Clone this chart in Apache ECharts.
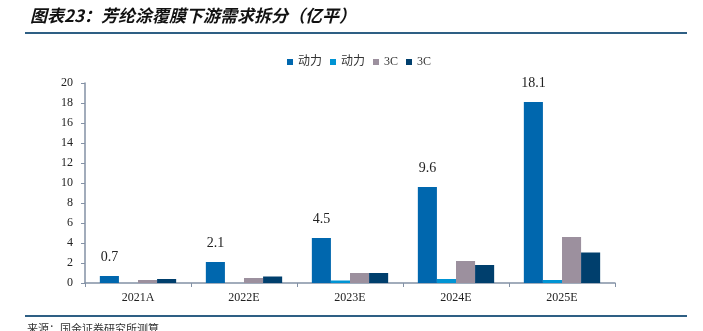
<!DOCTYPE html>
<html><head><meta charset="utf-8">
<script src="https://cdn.jsdelivr.net/npm/echarts@6/dist/echarts.min.js"></script>
<style>html,body{margin:0;padding:0;background:#fff}#c{width:703px;height:331px}</style>
</head><body><div id="c"></div>
<script>
const categories = ['2021A','2022E','2023E','2024E','2025E'];
const seriesNames = ['动力','动力','3C','3C'];
const power1 = [0.7, 2.1, 4.5, 9.6, 18.1];
const power2 = [0, 0, 0.25, 0.4, 0.3];
const c3a = [0.3, 0.5, 1.0, 2.2, 4.6];
const c3b = [0.4, 0.65, 1.0, 1.8, 3.05];
const yTicks = [0,2,4,6,8,10,12,14,16,18,20];

const colors = ['#0067AE','#0094D4','#9C909E','#003F6D'];
const serif = '"Liberation Serif","DejaVu Serif",serif';
const chart = echarts.init(document.getElementById('c'));
const mk = (name, data, i, label) => ({
  name, type:'bar', data, barGap:'0%', barCategoryGap:'28%',
  itemStyle:{color:colors[i]},
  label: label ? {show:true, position:'top', distance:12, color:'#222', fontFamily:serif, fontSize:14} : {show:false}
});
chart.setOption({
  animation:false,
  legend:{left:282, top:51, itemWidth:6, itemHeight:6, itemGap:8, icon:'rect',
    textStyle:{fontSize:12, color:'#333', fontFamily:'"Liberation Serif","Noto Sans CJK SC",serif'},
    data: seriesNames.map((n,i)=>({name:n+(i%2? '\u200b':''), itemStyle:{color:colors[i]}}))},
  grid:{left:85, right:88, top:83, bottom:48},
  xAxis:{type:'category', data:categories,
    axisLine:{lineStyle:{color:'#8391A5', width:1.5}},
    axisTick:{show:true, length:4, lineStyle:{color:'#8391A5'}},
    axisLabel:{color:'#222', fontFamily:serif, fontSize:12, margin:9}},
  yAxis:{type:'value', min:yTicks[0], max:yTicks[yTicks.length-1], interval:2,
    axisLine:{show:true, lineStyle:{color:'#8391A5', width:1.5}},
    axisTick:{show:true, length:4, lineStyle:{color:'#8391A5'}},
    splitLine:{show:false},
    axisLabel:{color:'#222', fontFamily:serif, fontSize:12, margin:12}},
  series:[
    mk(seriesNames[0], power1, 0, true),
    mk(seriesNames[1]+'\u200b', power2, 1, false),
    mk(seriesNames[2], c3a, 2, false),
    mk(seriesNames[3]+'\u200b', c3b, 3, false)
  ],
  graphic:[
    {type:'text', left:30, top:7, style:{text:'图表23：芳纶涂覆膜下游需求拆分（亿平）', fill:'#111',
      font:'italic bold 17px "Noto Sans CJK SC", sans-serif'}},
    {type:'line', shape:{x1:25,y1:33,x2:687,y2:33}, style:{stroke:'#2E5F84', lineWidth:2}},
    {type:'line', shape:{x1:25,y1:316,x2:687,y2:316}, style:{stroke:'#2E5F84', lineWidth:2}},
    {type:'text', left:27, top:323, style:{text:'来源：国金证券研究所测算', fill:'#333',
      font:'11px "Noto Sans CJK SC", sans-serif'}}
  ]
});
</script></body></html>
